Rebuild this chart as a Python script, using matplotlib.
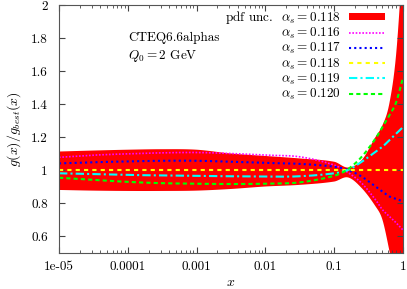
import numpy as np
import matplotlib
matplotlib.use("Agg")
import matplotlib.pyplot as plt
from matplotlib.ticker import LogLocator, NullFormatter

plt.rcParams['font.family'] = 'serif'
plt.rcParams['font.serif'] = ['cmr10']
plt.rcParams['mathtext.fontset'] = 'cm'
plt.rcParams['axes.formatter.use_mathtext'] = True

log_x = [-5, -4.5, -4, -3.5, -3, -2.5, -2, -1.5, -1, -0.8, -0.6, -0.4, -0.3, -0.2, -0.1, 0]
band_hi = [1.112, 1.118, 1.123, 1.126, 1.123, 1.10, 1.085, 1.07, 1.05, 1.015, 1.06, 1.20, 1.27, 1.40, 1.70, 2.30]
band_lo = [0.879, 0.875, 0.873, 0.873, 0.875, 0.885, 0.90, 0.91, 0.93, 0.955, 0.89, 0.78, 0.70, 0.515, 0.30, 0.0]
a116 = [1.077, 1.09, 1.098, 1.104, 1.106, 1.10, 1.09, 1.08, 1.03, 0.985, 0.92, 0.82, 0.76, 0.72, 0.68, 0.636]
a117 = [1.04, 1.047, 1.052, 1.056, 1.056, 1.05, 1.043, 1.037, 1.02, 1.0, 0.96, 0.90, 0.87, 0.84, 0.825, 0.81]
a118 = [1.0] * 16
a119 = [0.98, 0.975, 0.97, 0.967, 0.964, 0.962, 0.96, 0.962, 0.98, 1.0, 1.05, 1.11, 1.14, 1.18, 1.22, 1.26]
a120 = [0.953, 0.94, 0.928, 0.92, 0.917, 0.915, 0.917, 0.925, 0.965, 1.005, 1.08, 1.19, 1.26, 1.33, 1.41, 1.56]

xticks = [1e-5, 1e-4, 1e-3, 1e-2, 1e-1, 1]
xticklabels = ["1e-05", "0.0001", "0.001", "0.01", "0.1", "1"]
yticks = [0.6, 0.8, 1.0, 1.2, 1.4, 1.6, 1.8, 2.0]
yticklabels = ["0.6", "0.8", "1", "1.2", "1.4", "1.6", "1.8", "2"]

lx = np.array(log_x)
fine = np.linspace(-5, 0, 400)
def smooth(v):
    v = np.array(v, dtype=float)
    n = len(lx)
    d = np.zeros(n)
    for i in range(n):
        if i == 0:
            d[i] = (v[1]-v[0])/(lx[1]-lx[0])
        elif i == n-1:
            d[i] = (v[-1]-v[-2])/(lx[-1]-lx[-2])
        else:
            d[i] = ((v[i+1]-v[i-1])/(lx[i+1]-lx[i-1]))
    out = np.empty_like(fine)
    for k, t in enumerate(fine):
        i = min(np.searchsorted(lx, t, side='right')-1, n-2)
        h = lx[i+1]-lx[i]
        s = (t-lx[i])/h
        h00 = 2*s**3-3*s**2+1; h10 = s**3-2*s**2+s
        h01 = -2*s**3+3*s**2; h11 = s**3-s**2
        out[k] = h00*v[i]+h10*h*d[i]+h01*v[i+1]+h11*h*d[i+1]
    return out

xf = 10**fine

fig = plt.figure(figsize=(4.07, 2.89), dpi=100)
ax = fig.add_axes([59/407, 1-252.5/289, (403-59)/407, (252.5-5)/289])

ax.fill_between(xf, smooth(band_lo), smooth(band_hi), color='#ff0000', lw=0,
                label=r'pdf unc.  $\alpha_s = 0.118$')
ax.plot(xf, smooth(a116), color='#ff00ff', lw=1.2, ls=(0, (1, 1)), label=r'$\alpha_s = 0.116$')
ax.plot(xf, smooth(a117), color='#0000ff', lw=1.5, ls=(0, (1, 1.5)), label=r'$\alpha_s = 0.117$')
ax.plot(xf, smooth(a118), color='#ffff00', lw=1.5, ls=(0, (2, 2)), label=r'$\alpha_s = 0.118$')
ax.plot(xf, smooth(a119), color='#00ffff', lw=1.5, ls=(0, (4, 1.5, 1, 1.5)), label=r'$\alpha_s = 0.119$')
ax.plot(xf, smooth(a120), color='#00ff00', lw=1.5, ls=(0, (2, 1.5)), label=r'$\alpha_s = 0.120$')

ax.set_xscale('log')
ax.set_xlim(1e-5, 1)
ax.set_ylim(0.5, 2.0)
ax.set_xticks(xticks)
ax.set_xticklabels(xticklabels)
ax.xaxis.set_minor_locator(LogLocator(base=10, subs=np.arange(2, 10)))
ax.xaxis.set_minor_formatter(NullFormatter())
ax.set_yticks(yticks)
ax.set_yticklabels(yticklabels)
ax.tick_params(which='both', direction='in', top=True, right=True, labelsize=9.5, color='#444444')
ax.tick_params(which='major', length=4)
ax.tick_params(axis='x', which='major', pad=6)
ax.tick_params(axis='y', which='major', pad=8)
ax.tick_params(which='minor', length=2)
for s in ax.spines.values():
    s.set_color('#555555')

ax.set_xlabel(r'$x$', fontsize=10)
ax.xaxis.set_label_coords(0.5, -0.098)
ax.set_ylabel(r'$g(x)/g_{best}(x)$', fontsize=10, labelpad=6)

ax.text(0.2, 0.855, 'CTEQ6.6alphas', transform=ax.transAxes, fontsize=9.5)
ax.text(0.2, 0.78, r'$Q_0 = 2$ GeV', transform=ax.transAxes, fontsize=9.5)

leg = ax.legend(loc='upper right', bbox_to_anchor=(0.958, 1.0), frameon=False,
                markerfirst=False, fontsize=9.5,
                handlelength=2.7, handleheight=0.5, labelspacing=0.0,
                borderaxespad=0.0, borderpad=0.3, handletextpad=0.6)
for t in leg.get_texts():
    t.set_ha('right')
leg._legend_box.align = 'right'

fig.savefig('out.png', dpi=100)
